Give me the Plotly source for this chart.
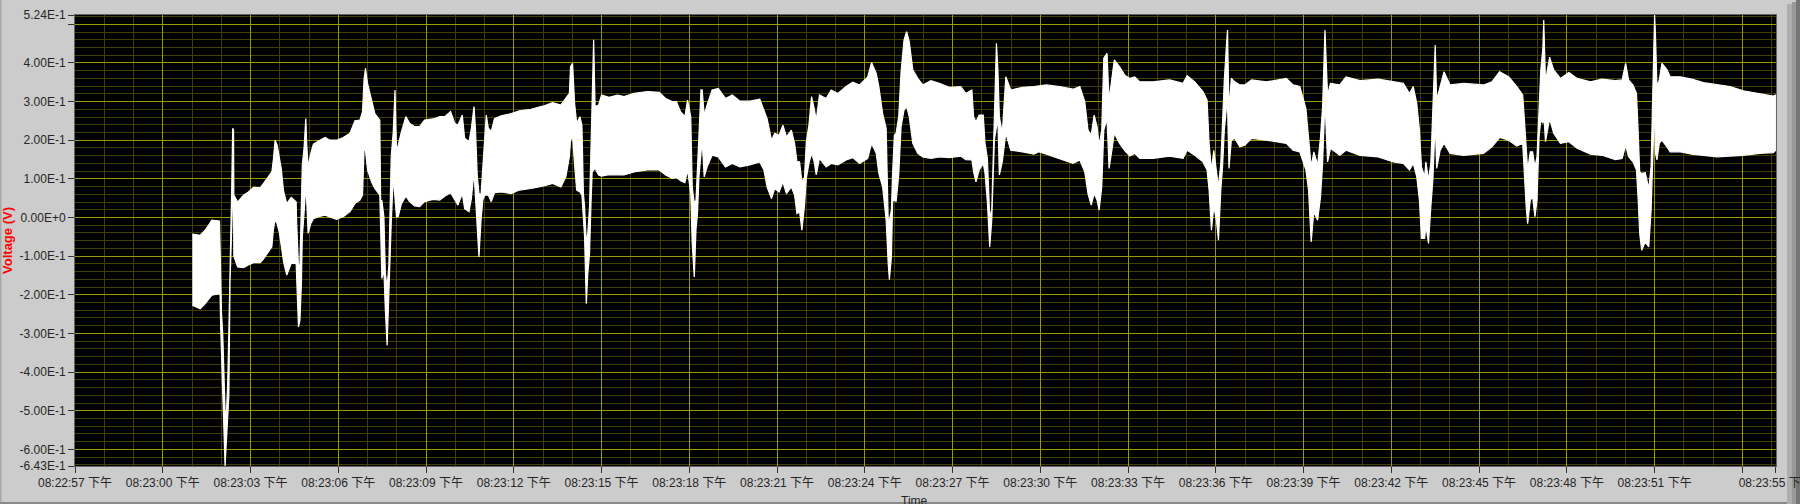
import plotly.graph_objects as go

# seconds after 08:22:57, upper and lower envelope of the voltage trace (V)
time_s = [
4.01,4.28,4.45,4.68,4.94,4.96,4.98,5.01,5.05,5.10,5.13,5.18,5.22,5.26,5.30,5.33,5.36,5.39,5.42,5.43,
5.56,5.76,5.93,6.10,6.33,6.44,6.58,6.73,6.78,6.84,6.91,6.99,7.05,7.13,7.24,7.39,7.56,7.58,7.64,7.69,
7.74,7.77,7.83,7.89,7.92,7.97,8.06,8.15,8.32,8.55,8.72,8.94,9.17,9.40,9.57,9.74,9.83,9.88,9.93,10.0,
10.14,10.25,10.42,10.45,10.49,10.56,10.61,10.67,10.73,10.76,10.81,10.88,10.94,10.99,11.05,11.16,11.31,11.44,11.61,11.78,
11.95,12.24,12.47,12.64,12.84,12.98,13.09,13.24,13.32,13.47,13.55,13.64,13.69,13.75,13.81,13.88,13.94,14.01,14.06,14.13,
14.23,14.34,14.57,14.91,15.19,15.59,15.99,16.33,16.61,16.78,16.90,16.94,17.01,17.08,17.15,17.26,17.33,17.38,17.42,17.48,
17.53,17.59,17.64,17.68,17.73,17.78,17.90,18.0,18.26,18.55,18.77,19.11,19.57,19.97,20.19,20.42,20.56,20.70,20.85,20.94,
21.05,21.10,21.17,21.23,21.28,21.33,21.40,21.44,21.51,21.61,21.78,21.99,22.24,22.47,22.73,23.07,23.41,23.55,23.66,23.81,
23.92,24.07,24.20,24.32,24.49,24.60,24.68,24.77,24.85,24.94,25.0,25.09,25.18,25.27,25.34,25.45,25.68,25.85,26.08,26.36,
26.59,26.82,27.10,27.23,27.39,27.48,27.61,27.73,27.80,27.84,27.91,27.95,28.01,28.07,28.16,28.24,28.34,28.43,28.52,28.64,
28.81,28.98,29.26,29.55,29.89,30.28,30.45,30.66,30.72,30.80,30.91,31.05,31.11,31.19,31.27,31.34,31.39,31.43,31.50,31.55,
31.60,31.70,31.82,31.99,32.39,32.78,32.95,33.21,33.66,34.12,34.35,34.52,34.63,34.74,34.84,34.94,35.01,35.10,35.17,35.28,
35.35,35.43,35.53,35.71,35.88,36.06,36.23,36.40,36.85,37.42,37.88,38.02,38.28,38.56,38.70,38.77,38.85,38.93,39.02,39.09,
39.17,39.23,39.29,39.36,39.40,39.45,39.53,39.65,39.82,39.99,40.22,40.73,41.41,41.64,41.87,42.08,42.17,42.26,42.35,42.48,
42.58,42.65,42.73,42.82,42.92,43.24,43.45,43.93,44.55,45.07,45.41,45.62,45.75,45.87,45.96,46.03,46.14,46.18,46.27,46.35,
46.42,46.50,46.55,46.67,46.80,47.01,47.47,48.15,48.44,48.70,49.01,49.29,49.49,49.55,49.61,49.66,49.75,49.83,49.91,49.98,
50.05,50.11,50.18,50.21,50.27,50.41,50.55,50.78,51.07,51.35,51.81,52.20,52.66,52.89,53.01,53.11,53.26,53.38,53.44,53.49,
53.56,53.68,53.80,53.88,53.92,53.98,54.0,54.03,54.08,54.16,54.25,54.42,54.53,54.88,55.27,55.67,56.13,56.58,57.03,57.60,
58.06,58.14]

upper_v = [
-.043,-.046,-.033,-.007,-.009,-.09,-.128,-.25,-.30,-.48,-.50,-.50,-.43,-.29,-.089,.035,.086,.231,.226,.058,
.04,.058,.066,.078,.077,.088,.104,.118,.149,.2,.187,.157,.127,.068,.036,.052,.041,-.016,-.128,-.121,
.006,.136,.179,.256,.192,.131,.166,.19,.198,.207,.2,.2,.207,.218,.25,.252,.274,.356,.386,.347,
.304,.269,.252,.036,.045,.002,-.145,-.18,-.123,-.033,.157,.222,.33,.174,.187,.222,.261,.244,.235,.235,
.252,.255,.261,.261,.274,.244,.239,.265,.205,.196,.231,.287,.231,.11,.062,.058,.14,.209,.265,.231,
.222,.256,.263,.269,.276,.28,.288,.297,.291,.308,.321,.39,.399,.295,.244,.261,.239,.062,.028,-.067,
-.041,.028,.2,.278,.46,.287,.291,.317,.311,.317,.313,.321,.326,.324,.308,.3,.3,.274,.261,.304,
.261,.079,.036,.045,.131,.2,.33,.33,.265,.291,.33,.334,.308,.317,.301,.301,.306,.278,.256,.2,
.218,.213,.239,.209,.226,.192,.144,.144,.092,.105,.196,.239,.313,.282,.252,.317,.308,.33,.321,.339,
.35,.343,.364,.401,.373,.339,.269,.231,-.007,-.007,.019,.114,.213,.218,.261,.377,.459,.481,.455,.382,
.36,.343,.354,.347,.337,.339,.321,.33,.261,.248,.265,.265,.192,.153,.002,.019,.157,.3,.451,.382,
.261,.218,.364,.33,.337,.339,.34,.343,.339,.332,.339,.3,.226,.213,.265,.235,.187,.226,.412,.425,
.304,.356,.408,.39,.369,.36,.364,.351,.351,.356,.347,.367,.351,.326,.304,.192,.123,.174,.118,.079,
.14,.261,.356,.442,.485,.278,.36,.351,.343,.343,.356,.351,.36,.343,.339,.282,.2,.131,.17,.136,
.209,.287,.485,.317,.347,.343,.364,.354,.358,.351,.347,.321,.339,.295,.226,.131,.105,.144,.097,.14,
.278,.446,.304,.343,.377,.343,.347,.343,.351,.377,.364,.339,.317,.252,.183,.123,.17,.17,.131,.157,
.278,.382,.438,.511,.351,.415,.382,.36,.375,.36,.351,.358,.354,.356,.399,.356,.343,.321,.218,.118,
.114,.116,.075,.131,.265,.425,.524,.472,.339,.356,.399,.383,.364,.364,.358,.349,.343,.339,.328,.321,
.314,.317]

lower_v = [
-.227,-.236,-.223,-.201,-.197,-.2,-.283,-.385,-.45,-.57,-.643,-.60,-.52,-.46,-.167,-.089,-.022,.055,.028,-.10,
-.128,-.13,-.123,-.117,-.117,-.108,-.092,-.076,-.033,-.005,-.016,-.041,-.076,-.115,-.149,-.119,-.119,-.119,-.283,-.266,
-.171,-.05,.01,.081,.045,-.041,-.016,-.003,.002,.006,.002,-.005,.002,.015,.036,.045,.058,.174,.174,.123,
.092,.075,.058,-.024,-.158,-.136,-.24,-.331,-.24,-.128,-.016,.105,.062,.002,.002,.036,.055,.041,.03,.028,
.041,.047,.045,.055,.064,.045,.032,.062,.023,.015,.049,.118,.045,-.028,-.102,-.007,.045,.058,.058,.058,
.041,.064,.066,.062,.071,.075,.081,.088,.079,.105,.157,.2,.209,.136,.071,.066,.058,-.007,-.05,-.223,
-.145,-.093,.036,.118,.123,.127,.11,.107,.111,.11,.11,.118,.123,.123,.11,.101,.104,.095,.09,.123,
.062,-.067,-.154,-.03,.01,.105,.166,.2,.105,.131,.161,.157,.131,.14,.131,.136,.144,.123,.079,.049,
.075,.066,.092,.062,.079,.058,.01,.015,-.033,.032,.101,.14,.166,.144,.11,.153,.131,.14,.136,.149,
.155,.14,.153,.192,.166,.114,.079,-.007,-.119,-.161,-.102,.041,.045,.041,.11,.235,.278,.287,.261,.192,
.166,.157,.153,.157,.155,.159,.15,.149,.118,.092,.123,.14,.114,.041,-.076,-.007,.11,.2,.235,.25,
.11,.144,.218,.174,.17,.164,.17,.164,.153,.14,.149,.118,.062,.032,.062,.045,.019,.079,.226,.256,
.127,.166,.218,.192,.174,.159,.166,.153,.153,.159,.153,.174,.161,.144,.123,.071,-.033,.028,-.007,-.059,
.071,.131,.226,.282,.29,.127,.2,.205,.183,.187,.205,.2,.192,.174,.17,.123,.071,-.063,.015,-.007,
.054,.14,.304,.144,.179,.161,.174,.161,.157,.144,.14,.123,.14,.105,.045,-.054,-.054,-.02,-.067,.028,
.097,.252,.127,.174,.192,.166,.161,.166,.183,.207,.2,.185,.192,.114,.028,-.016,.045,.054,.002,.045,
.209,.252,.244,.27,.196,.256,.218,.192,.196,.179,.164,.161,.15,.153,.187,.157,.144,.123,.045,-.041,
-.085,-.063,-.076,.019,.131,.252,.31,.166,.149,.192,.2,.183,.17,.17,.164,.161,.157,.159,.161,.166,
.168,.174]

x_major = [0,3,6,9,12,15,18,21,24,27,30,33,36,39,42,45,48,51,54,57,58.14]
x_labels = ["08:22:57 下午","08:23:00 下午","08:23:03 下午","08:23:06 下午","08:23:09 下午","08:23:12 下午",
            "08:23:15 下午","08:23:18 下午","08:23:21 下午","08:23:24 下午","08:23:27 下午","08:23:30 下午",
            "08:23:33 下午","08:23:36 下午","08:23:39 下午","08:23:42 下午","08:23:45 下午","08:23:48 下午",
            "08:23:51 下午","","08:23:55 下午"]
x_minor = [s for s in range(1,59) if s % 3]
y_major = [-.643,-.6,-.5,-.4,-.3,-.2,-.1,0,.1,.2,.3,.4,.5,.524]
y_labels = ["-6.43E-1","-6.00E-1","-5.00E-1","-4.00E-1","-3.00E-1","-2.00E-1","-1.00E-1","0.00E+0",
            "1.00E-1","2.00E-1","3.00E-1","4.00E-1","","5.24E-1"]
y_minor = [i/100 for i in range(-64,54,2) if i % 10]

W, H = 1800, 504
L, R, T, B = 75, 24, 15, 38
pw, ph = W-L-R, H-T-B
def px(x): return (x-L)/pw
def py(y): return 1-(y-T)/ph

FONT = "Liberation Sans, Noto Sans CJK SC, sans-serif"
fig = go.Figure(go.Scatter(
    x=time_s+time_s[::-1], y=upper_v+lower_v[::-1], mode="lines", fill="toself",
    fillcolor="#ffffff", line=dict(color="#ffffff", width=1.2), hoverinfo="skip", showlegend=False))

bands = [(1787,1792,"#aeaeae",4),(1792,1796,"#989898",2),(1796,1800,"#767676",0)]
shapes = [dict(type="rect",xref="paper",yref="paper",x0=px(a),x1=px(b),y0=py(504),y1=py(top),
               fillcolor=c,line_width=0,layer="below") for a,b,c,top in bands]
shapes += [dict(type="rect",xref="paper",yref="paper",x0=px(0),x1=px(1787),y0=py(504),y1=py(502),
                fillcolor="#8a8a8a",line_width=0,layer="below"),
           dict(type="rect",xref="paper",yref="paper",x0=px(0),x1=px(1.5),y0=py(502),y1=py(0),
                fillcolor="#a8a8a8",line_width=0,layer="below")]

fig.update_layout(
    width=W, height=H, margin=dict(l=L,r=R,t=T,b=B,pad=0), autosize=False,
    paper_bgcolor="#cccccc", plot_bgcolor="#000000",
    font=dict(family=FONT,size=12,color="#262626"), showlegend=False, shapes=shapes,
    annotations=[dict(text="Time",xref="paper",yref="paper",x=px(914),y=py(492),xanchor="center",yanchor="top",
                      showarrow=False,font=dict(size=12,color="#262626"))],
    xaxis=dict(range=[0,58.15],tickmode="array",tickvals=x_major,ticktext=x_labels,tickangle=0,
               ticklabeloverflow="allow",
               ticks="outside",ticklen=6,tickcolor="#333333",gridcolor="#999900",gridwidth=1,showgrid=True,
               zeroline=False,showline=True,linecolor="#666666",mirror=True,
               minor=dict(tickmode="array",tickvals=x_minor,showgrid=True,gridcolor="#403f00",gridwidth=1,ticks=""),
               automargin=False),
    yaxis=dict(range=[-.643,.524],tickmode="array",tickvals=y_major,ticktext=y_labels,
               ticks="outside",ticklen=6,tickcolor="#333333",gridcolor="#999900",gridwidth=1,showgrid=True,
               zeroline=False,showline=True,linecolor="#666666",mirror=True,
               minor=dict(tickmode="array",tickvals=y_minor,showgrid=True,gridcolor="#403f00",gridwidth=1,ticks=""),
               title=dict(text="<b>Voltage (V)</b>",standoff=6,font=dict(size=13,color="#ff0000")),automargin=False),
)
fig.write_html("out.html", config={"displayModeBar":False},
               post_script="document.body.style.margin='0';document.body.style.overflow='hidden';")
